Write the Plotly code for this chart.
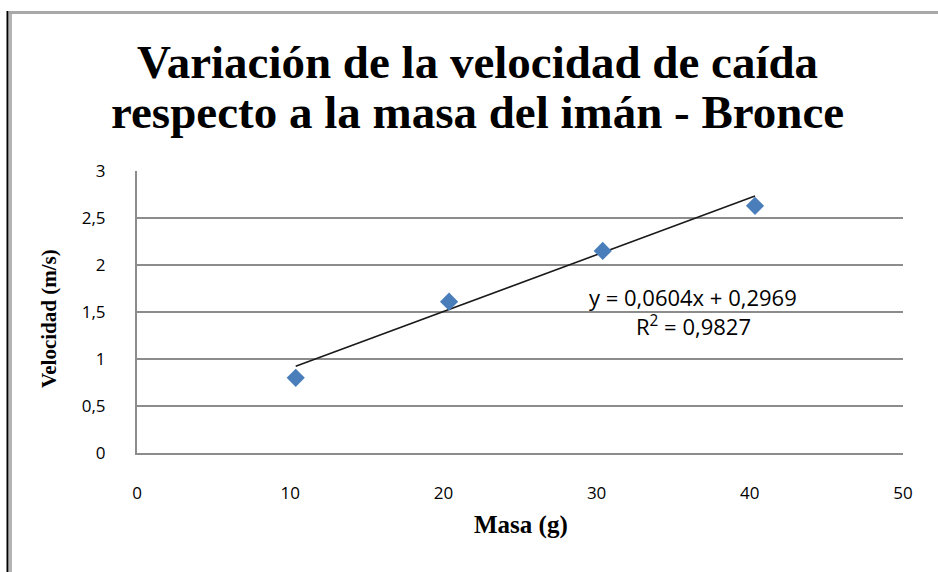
import plotly.graph_objects as go

# datos
masa = [10.36, 20.37, 30.4, 40.34]
velocidad = [0.80, 1.61, 2.15, 2.63]
pendiente = 0.0604
ordenada = 0.2969
r2 = 0.9827

x_ticks = [0, 10, 20, 30, 40, 50]
y_ticks = [0, 0.5, 1, 1.5, 2, 2.5, 3]
y_labels = ["0", "0,5", "1", "1,5", "2", "2,5", "3"]

W, H = 938, 572
L, R, T, B = 137, 35, 171, 119

def px(x):
    return (x - L) / (W - L - R)

def py(y):
    return (H - B - y) / (H - T - B)

# recta de tendencia a partir de la ecuación
x_tr = [min(masa), max(masa)]
y_tr = [pendiente * v + ordenada for v in x_tr]

fig = go.Figure()
fig.add_trace(go.Scatter(x=x_tr, y=y_tr, mode='lines',
                         line=dict(color='#1a1a1a', width=1.6), hoverinfo='skip'))
fig.add_trace(go.Scatter(x=masa, y=velocidad, mode='markers',
                         marker=dict(symbol='diamond', size=14, color='#4A7EBB')))

sans = 'Open Sans, sans-serif'
serif = 'Liberation Serif, Times New Roman, serif'
tick_font = dict(family=sans, size=17, color='#000')

def texto(t, x, y, size, family, angle=0):
    return dict(text=t, x=px(x), y=py(y), xref='paper', yref='paper', showarrow=False,
                xanchor='center', yanchor='middle', textangle=angle,
                font=dict(family=family, size=size, color='black'))

fig.update_layout(
    width=W, height=H,
    margin=dict(l=L, r=R, t=T, b=B),
    paper_bgcolor='white', plot_bgcolor='white',
    showlegend=False,
    xaxis=dict(range=[0, 50], tickvals=x_ticks, showgrid=False, zeroline=False,
               showline=True, linecolor='#8c8c8c', linewidth=2, ticks='',
               tickfont=tick_font, ticklabelstandoff=24),
    yaxis=dict(range=[0, 3], tickvals=y_ticks, ticktext=y_labels, showgrid=True,
               gridcolor='#8c8c8c', gridwidth=1.6, zeroline=False,
               showline=True, linecolor='#8c8c8c', linewidth=2, ticks='',
               tickfont=tick_font, ticklabelstandoff=26),
    annotations=[
        texto('<b>Variación de la velocidad de caída</b>', 477, 62, 47, serif),
        texto('<b>respecto a la masa del imán - Bronce</b>', 477, 112, 47, serif),
        texto('<b>Masa (g)</b>', 521, 525, 25, serif),
        texto('<b>Velocidad (m/s)</b>', 49, 319, 21, serif, -90),
        texto(f'y = {pendiente:.4f}x + {ordenada:.4f}'.replace('.', ','), 693, 297, 22, sans),
        texto(f'R<sup>2</sup> = {r2:.4f}'.replace('.', ','), 693, 325, 22, sans),
    ],
    shapes=[
        dict(type='line', xref='paper', yref='paper', x0=px(7.5), x1=px(7.5), y0=py(11), y1=py(H + 5),
             line=dict(color='black', width=2)),
        dict(type='line', xref='paper', yref='paper', x0=px(10.5), x1=px(10.5), y0=py(11), y1=py(H + 5),
             line=dict(color='#b4b4b4', width=3)),
        dict(type='line', xref='paper', yref='paper', x0=px(9), x1=px(W + 5), y0=py(12.5), y1=py(12.5),
             line=dict(color='#a8a8a8', width=3)),
    ],
)

fig.write_html("out.html", config={'displayModeBar': False},
               post_script="document.body.style.margin='0';")
